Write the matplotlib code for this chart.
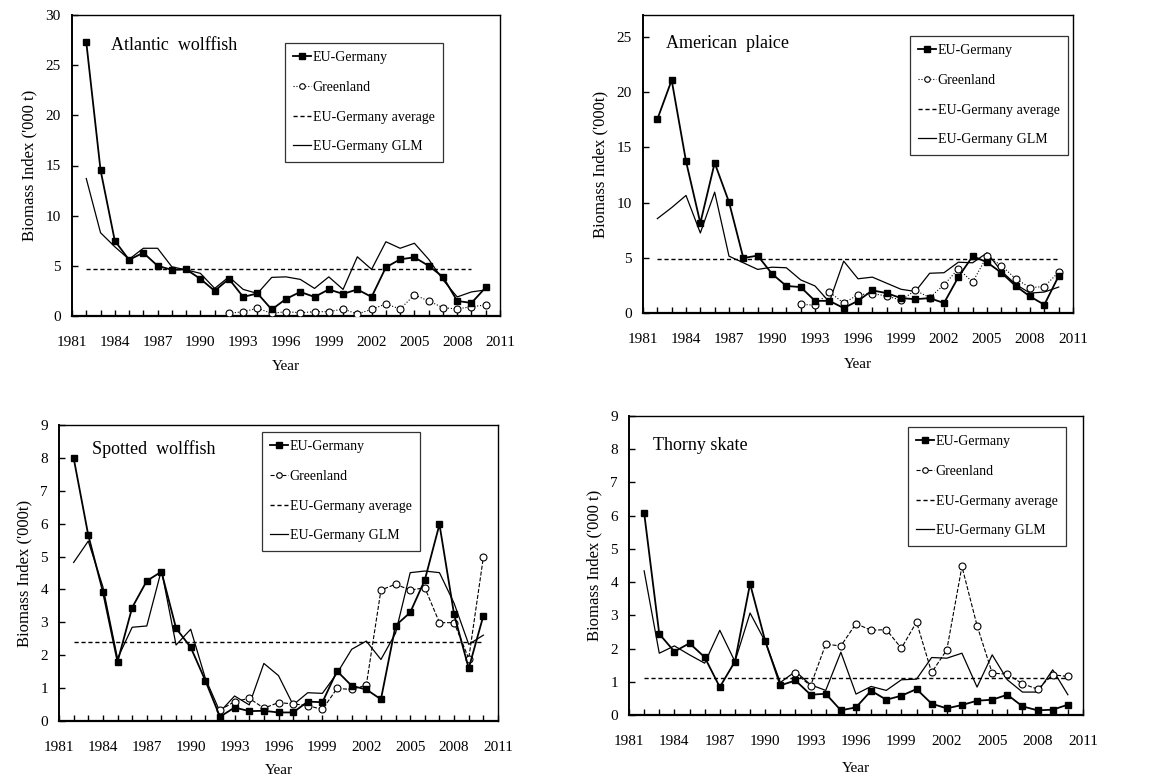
import matplotlib
matplotlib.use("Agg")
import matplotlib.pyplot as plt
from matplotlib.ticker import MultipleLocator, FixedLocator

plt.rcParams['font.family'] = ['Liberation Serif', 'DejaVu Serif']

years = list(range(1982, 2011))
gl_years = list(range(1992, 2011))
year_ticks = list(range(1981, 2012, 3))

# Atlantic wolffish
aw_eu = [27.3, 14.55, 7.5, 5.6, 6.3, 5.0, 4.6, 4.65, 3.7, 2.5, 3.7, 1.9, 2.25, 0.65, 1.7,
         2.4, 1.9, 2.65, 2.2, 2.65, 1.9, 4.85, 5.65, 5.85, 5.0, 3.9, 1.5, 1.3, 2.85]
aw_glm = [13.7, 8.3, 6.9, 5.65, 6.75, 6.75, 4.9, 4.6, 4.25, 2.75, 3.9, 2.65, 2.25, 3.85, 3.9,
          3.65, 2.75, 3.9, 2.65, 5.9, 4.65, 7.4, 6.75, 7.25, 5.65, 3.6, 1.9, 2.4, 2.6]
aw_gl = [0.27, 0.43, 0.76, 0.27, 0.43, 0.33, 0.43, 0.43, 0.7, 0.2, 0.66, 1.2, 0.7, 2.1,
         1.5, 0.83, 0.7, 0.93, 1.1]
aw_avg = 4.7

# American plaice
ap_eu = [17.55, 21.1, 13.75, 8.15, 13.6, 10.05, 4.98, 5.2, 3.55, 2.45, 2.35, 1.1, 1.1, 0.45,
         1.1, 2.05, 1.8, 1.35, 1.25, 1.35, 0.9, 3.25, 5.15, 4.6, 3.65, 2.45, 1.5, 0.75, 3.35]
ap_glm = [8.55, 9.55, 10.65, 7.25, 10.95, 5.15, 4.55, 3.95, 4.15, 4.1, 3.0, 2.45, 1.0, 4.7,
          3.1, 3.25, 2.7, 2.15, 1.95, 3.6, 3.65, 4.6, 4.55, 5.45, 3.8, 2.6, 1.8, 1.9, 2.35]
ap_gl = [0.8, 0.7, 1.9, 0.9, 1.65, 1.75, 1.55, 1.15, 2.05, 1.4, 2.55, 4.0, 2.8, 5.15, 4.3,
         3.1, 2.3, 2.4, 3.7]
ap_avg = 4.86

# Spotted wolffish
sw_eu = [8.0, 5.65, 3.93, 1.8, 3.45, 4.26, 4.54, 2.82, 2.24, 1.23, 0.13, 0.41, 0.3, 0.31,
         0.26, 0.26, 0.59, 0.57, 1.52, 1.07, 0.96, 0.66, 2.9, 3.3, 4.29, 5.98, 3.24, 1.6, 3.2]
sw_glm = [4.82, 5.47, 4.08, 1.9, 2.85, 2.89, 4.59, 2.31, 2.79, 1.3, 0.28, 0.76, 0.49, 1.75,
          1.38, 0.49, 0.86, 0.84, 1.45, 2.18, 2.43, 1.87, 2.67, 4.51, 4.56, 4.51, 3.58, 2.33, 2.61]
sw_gl = [0.33, 0.59, 0.69, 0.39, 0.56, 0.52, 0.47, 0.35, 0.99, 0.96, 1.09, 3.98, 4.16, 3.98,
         4.05, 2.99, 2.99, 1.9, 4.98]
sw_avg = 2.39

# Thorny skate
ts_eu = [6.09, 2.44, 1.91, 2.16, 1.74, 0.84, 1.61, 3.95, 2.23, 0.89, 1.04, 0.61, 0.64, 0.14,
         0.23, 0.73, 0.46, 0.58, 0.78, 0.34, 0.2, 0.3, 0.43, 0.46, 0.61, 0.26, 0.14, 0.16, 0.31]
ts_glm = [4.34, 1.86, 2.08, 1.81, 1.56, 2.55, 1.61, 3.07, 2.21, 0.98, 1.31, 0.91, 0.74, 1.89,
          0.63, 0.86, 0.74, 1.06, 1.08, 1.73, 1.71, 1.86, 0.84, 1.81, 1.06, 0.69, 0.69, 1.36, 0.61]
ts_gl = [1.26, 0.88, 2.13, 2.08, 2.75, 2.55, 2.57, 2.01, 2.8, 1.28, 1.96, 4.47, 2.69, 1.26,
         1.23, 0.94, 0.78, 1.21, 1.16]
ts_avg = 1.12

W, H = 1156, 780
fig = plt.figure(figsize=(W / 100, H / 100), dpi=100)


def rect(l, r, t, b):
    return [l / W, 1 - b / H, (r - l) / W, (b - t) / H]


panels = [
    dict(pos=(72, 500, 15, 316), title="Atlantic  wolffish", tpos=(111, 45),
         eu=aw_eu, glm=aw_glm, gl=aw_gl, avg=aw_avg, avg_end=2009,
         ymax=30, ystep=5, ylabel="Biomass Index ('000 t)", gls=':',
         leg=(285, 437, 43, 162), xlp=8),
    dict(pos=(643, 1073, 15, 313), title="American  plaice", tpos=(666, 43),
         eu=ap_eu, glm=ap_glm, gl=ap_gl, avg=ap_avg, avg_end=2010,
         ymax=27, ystep=5, ylabel="Biomass Index ('000t)", gls=':',
         leg=(910, 1059, 36, 154), xlp=8.5),
    dict(pos=(59, 498, 425, 721), title="Spotted  wolffish", tpos=(92, 449),
         eu=sw_eu, glm=sw_glm, gl=sw_gl, avg=sw_avg, avg_end=2010,
         ymax=9, ystep=1, ylabel="Biomass Index ('000t)", gls='--',
         leg=(262, 426, 432, 531), xlp=7),
    dict(pos=(629, 1083, 416, 715), title="Thorny skate", tpos=(653, 446),
         eu=ts_eu, glm=ts_glm, gl=ts_gl, avg=ts_avg, avg_end=2010,
         ymax=9, ystep=1, ylabel="Biomass Index ('000 t)", gls='--',
         leg=(908, 1073, 427, 542), xlp=10),
]

for p in panels:
    l, r, t, b = p['pos']
    ax = fig.add_axes(rect(l, r, t, b))
    ax.plot(years, p['eu'], color='black', lw=1.3, marker='s', ms=5, mfc='black', mec='black',
            label='EU-Germany', zorder=4)
    ax.plot(gl_years, p['gl'], color='black', lw=0.8, ls=p['gls'], marker='o', ms=5,
            mfc='white', mec='black', mew=0.8, label='Greenland', zorder=3)
    avg_years = [1982, p['avg_end']]
    ax.plot(avg_years, [p['avg'], p['avg']], color='black', lw=1.0, ls=(0, (3, 2)),
            label='EU-Germany average', zorder=2)
    ax.plot(years, p['glm'], color='black', lw=0.9, label='EU-Germany GLM', zorder=2)

    ax.set_xlim(1981, 2011)
    ax.set_ylim(0, p['ymax'])
    ax.xaxis.set_major_locator(FixedLocator(year_ticks))
    ax.xaxis.set_minor_locator(MultipleLocator(1))
    ax.yaxis.set_major_locator(MultipleLocator(p['ystep']))
    ax.tick_params(axis='both', which='both', direction='in', length=4, width=1,
                   labelsize=11, colors='black')
    ax.tick_params(axis='x', which='major', pad=14.5)
    ax.tick_params(axis='y', which='major', pad=8)
    for s in ax.spines.values():
        s.set_linewidth(1.0)
    ax.spines['bottom'].set_linewidth(1.6)
    ax.spines['left'].set_linewidth(1.4)
    ax.set_xlabel('Year', fontsize=11, labelpad=p['xlp'])
    ax.set_ylabel(p['ylabel'], fontsize=12, labelpad=6)

    tx, ty = p['tpos']
    ax.text((tx - l) / (r - l), 1 - (ty - t) / (b - t), p['title'], transform=ax.transAxes,
            fontsize=13, ha='left', va='center')

    ll, lr, lt, lb = p['leg']
    leg = ax.legend(loc='upper left',
                    bbox_to_anchor=((ll - l) / (r - l), 1 - (lt - t) / (b - t)),
                    fontsize=10, frameon=True, fancybox=False, edgecolor='black',
                    handlelength=1.3, handletextpad=0.1, borderpad=0.6,
                    labelspacing=1.2, borderaxespad=0, markerscale=0.8)
    leg.get_frame().set_linewidth(0.9)

fig.savefig('out.png', dpi=100, facecolor='white')
